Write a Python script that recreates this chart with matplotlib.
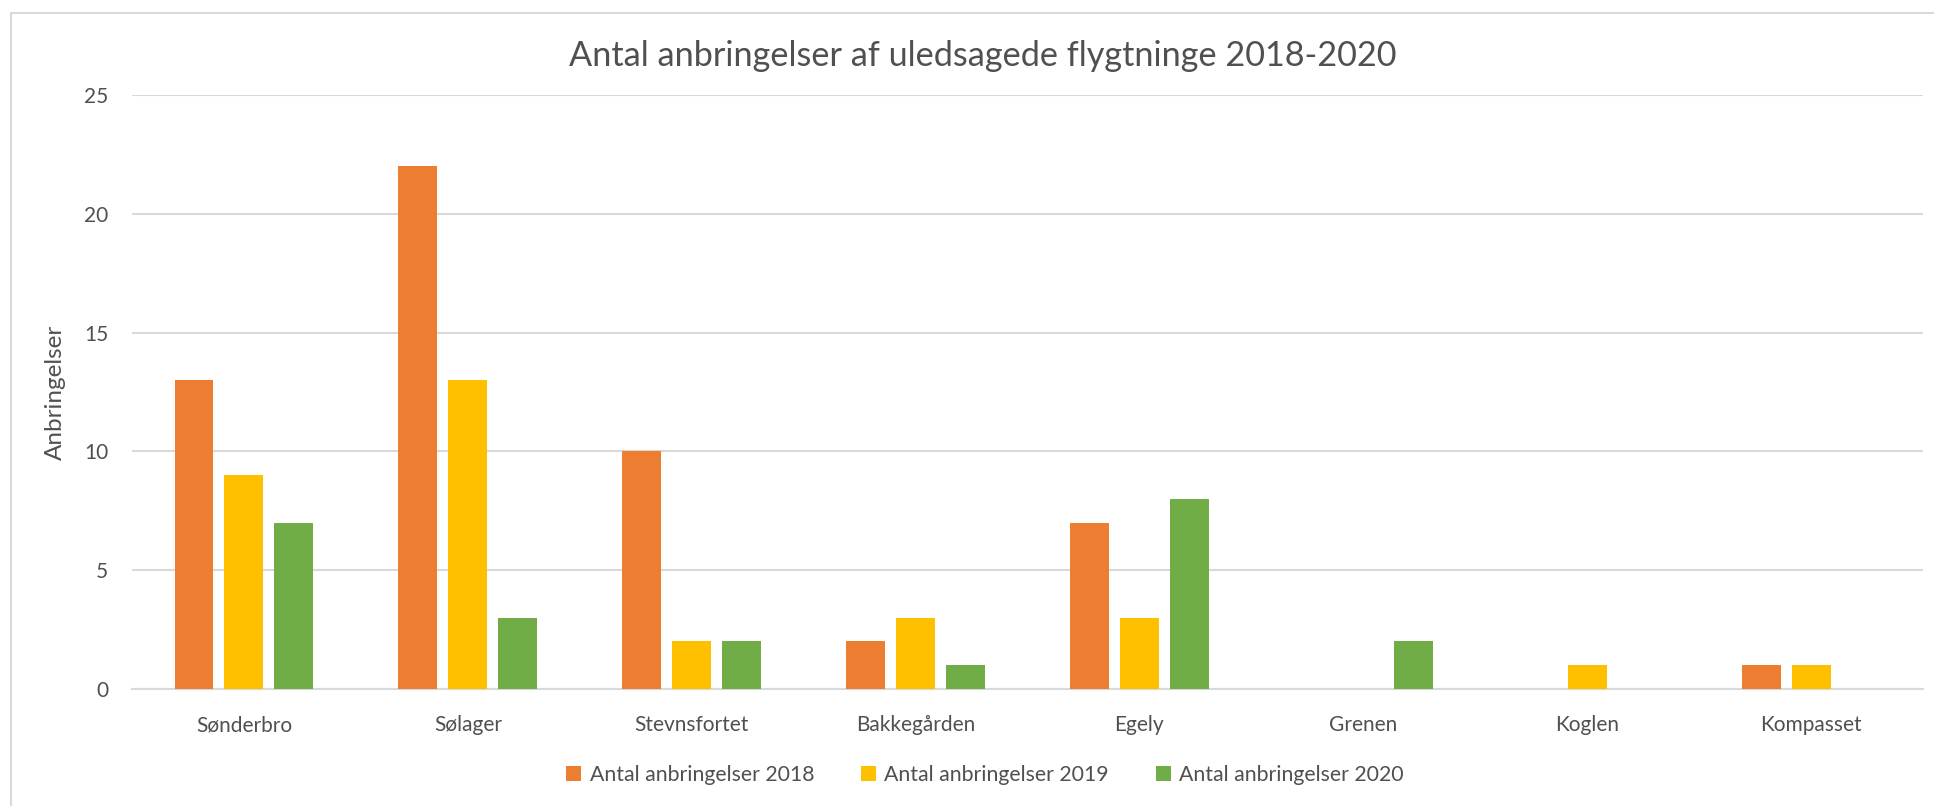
import matplotlib.pyplot as plt
from matplotlib.patches import Rectangle
import numpy as np

plt.rcParams['font.family'] = ['Lato', 'DejaVu Sans']

kategorier = ['Sønderbro', 'Sølager', 'Stevnsfortet', 'Bakkegården', 'Egely', 'Grenen', 'Koglen', 'Kompasset']
aar2018 = [13, 22, 10, 2, 7, 0, 0, 1]
aar2019 = [9, 13, 2, 3, 3, 0, 1, 1]
aar2020 = [7, 3, 2, 1, 8, 2, 0, 0]
serier = ['Antal anbringelser 2018', 'Antal anbringelser 2019', 'Antal anbringelser 2020']
farver = ['#ED7D31', '#FFC000', '#70AD47']
tekstfarve = '#505050'

fig = plt.figure(figsize=(19.34, 8.06), dpi=100)
ax = fig.add_axes([132/1934, 1-689/806, (1923-132)/1934, (689-95)/806])

# ramme rundt om diagrammet
fig.patches.append(Rectangle((11/1934, -0.05), 1.2, 0.05+1-13/806, transform=fig.transFigure,
                             fill=False, edgecolor='#D9D9D9', linewidth=1.5))

x = np.arange(len(kategorier))
bredde = 0.174
afstand = 0.223
for i, (vaerdier, navn, farve) in enumerate(zip([aar2018, aar2019, aar2020], serier, farver)):
    ax.bar(x + (i-1)*afstand, vaerdier, bredde, color=farve, label=navn, zorder=3)

ax.set_xlim(-0.5, len(kategorier)-0.5)
ax.set_ylim(0, 25)
ax.set_yticks([0, 5, 10, 15, 20, 25])
ax.set_xticks(x)
ax.set_xticklabels(kategorier)
ax.tick_params(axis='both', length=0, labelsize=15, labelcolor=tekstfarve)
ax.tick_params(axis='x', pad=19)
ax.tick_params(axis='y', pad=17)
ax.grid(axis='y', color='#D9D9D9', linewidth=1.5, zorder=0)
for s in ['top', 'right', 'left']:
    ax.spines[s].set_visible(False)
ax.spines['bottom'].set_color('#D9D9D9')
ax.spines['bottom'].set_linewidth(1.5)

ax.set_ylabel('Anbringelser', fontsize=17.5, color=tekstfarve, labelpad=13)
fig.text(983/1934, 1-56/806, 'Antal anbringelser af uledsagede flygtninge 2018-2020',
         ha='center', va='center', fontsize=24.7, color=tekstfarve)

fig.legend(loc='center', bbox_to_anchor=(985/1934, 1-775/806), ncol=3, frameon=False,
           fontsize=15.3, labelcolor=tekstfarve, handlelength=0.7, handleheight=0.7,
           handletextpad=0.4, columnspacing=2.2)

plt.savefig('out.png', dpi=100)
